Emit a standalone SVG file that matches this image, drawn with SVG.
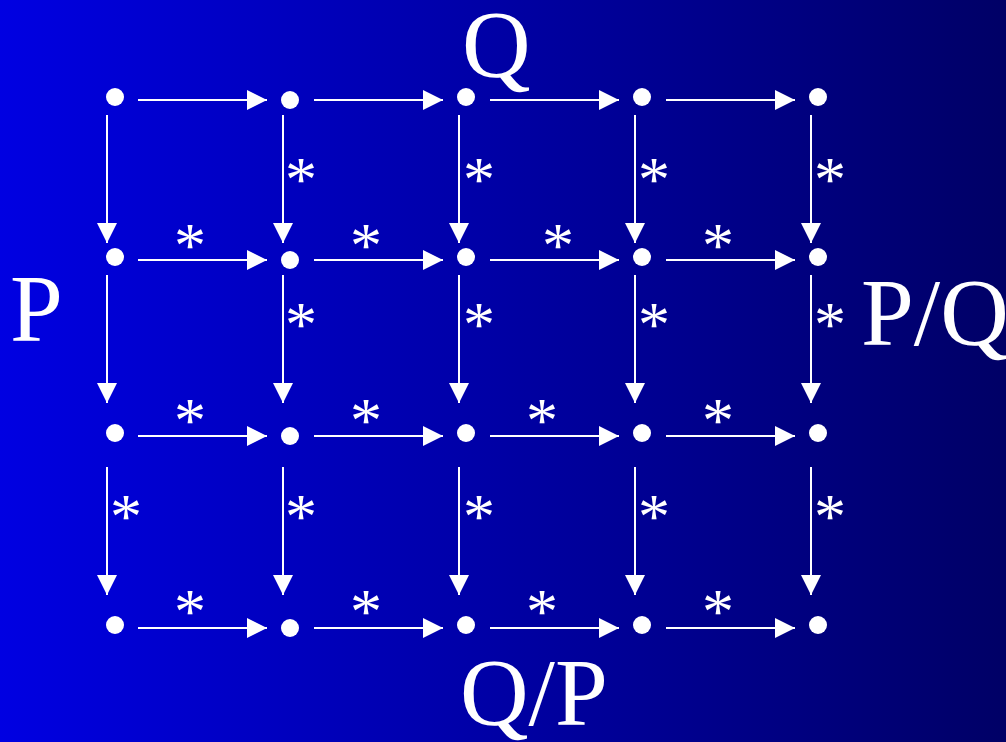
<svg xmlns="http://www.w3.org/2000/svg" width="1006" height="742" viewBox="0 0 1006 742">
<defs>
<linearGradient id="bg" x1="0" y1="0" x2="1" y2="0">
<stop offset="0" stop-color="#0000E2"/>
<stop offset="1" stop-color="#000066"/>
</linearGradient>
<marker id="ah" markerWidth="20" markerHeight="20" viewBox="0 0 20 20" refX="20" refY="10" orient="auto" markerUnits="userSpaceOnUse">
<path d="M0,0 L20,10 L0,20 Z" fill="#fff"/>
</marker>
<style>
.e{stroke:#fff;stroke-width:2;fill:none;marker-end:url(#ah)}
.d{fill:#fff}
.s{fill:#fff;font-family:"Liberation Serif","Times New Roman",serif;font-size:64px;text-anchor:middle}
.l{fill:#fff;font-family:"Liberation Serif","Times New Roman",serif;font-size:95px}
</style>
</defs>
<rect width="1006" height="742" fill="url(#bg)"/>
<g id="connectors">
<path class="e" d="M138,100 H267"/><path class="e" d="M314,100 H443"/><path class="e" d="M490,100 H619"/><path class="e" d="M666,100 H795"/>
<path class="e" d="M138,260 H267"/><path class="e" d="M314,260 H443"/><path class="e" d="M490,260 H619"/><path class="e" d="M666,260 H795"/>
<path class="e" d="M138,436 H267"/><path class="e" d="M314,436 H443"/><path class="e" d="M490,436 H619"/><path class="e" d="M666,436 H795"/>
<path class="e" d="M138,628 H267"/><path class="e" d="M314,628 H443"/><path class="e" d="M490,628 H619"/><path class="e" d="M666,628 H795"/>
<path class="e" d="M107,115 V243"/><path class="e" d="M283,115 V243"/><path class="e" d="M459,115 V243"/><path class="e" d="M635,115 V243"/><path class="e" d="M811,115 V243"/>
<path class="e" d="M107,275 V403"/><path class="e" d="M283,275 V403"/><path class="e" d="M459,275 V403"/><path class="e" d="M635,275 V403"/><path class="e" d="M811,275 V403"/>
<path class="e" d="M107,467 V595"/><path class="e" d="M283,467 V595"/><path class="e" d="M459,467 V595"/><path class="e" d="M635,467 V595"/><path class="e" d="M811,467 V595"/>
</g>
<g id="stars">
<text class="s" x="190" y="267">*</text><text class="s" x="366" y="267">*</text><text class="s" x="558" y="267">*</text><text class="s" x="718" y="267">*</text>
<text class="s" x="190" y="442">*</text><text class="s" x="366" y="442">*</text><text class="s" x="542" y="442">*</text><text class="s" x="718" y="442">*</text>
<text class="s" x="190" y="633">*</text><text class="s" x="366" y="633">*</text><text class="s" x="542" y="633">*</text><text class="s" x="718" y="633">*</text>
<text class="s" x="301" y="201">*</text><text class="s" x="479" y="201">*</text><text class="s" x="654" y="201">*</text><text class="s" x="830" y="201">*</text>
<text class="s" x="301" y="346">*</text><text class="s" x="479" y="346">*</text><text class="s" x="654" y="346">*</text><text class="s" x="830" y="346">*</text>
<text class="s" x="126" y="538">*</text><text class="s" x="301" y="538">*</text><text class="s" x="479" y="538">*</text><text class="s" x="654" y="538">*</text><text class="s" x="830" y="538">*</text>
</g>
<g id="n11"><circle class="d" cx="115" cy="97" r="9"/></g>
<g id="n12"><circle class="d" cx="290" cy="100" r="9"/></g>
<g id="n13"><circle class="d" cx="466" cy="97" r="9"/></g>
<g id="n14"><circle class="d" cx="642" cy="97" r="9"/></g>
<g id="n15"><circle class="d" cx="818" cy="97" r="9"/></g>
<g id="n21"><circle class="d" cx="115" cy="257" r="9"/></g>
<g id="n22"><circle class="d" cx="290" cy="260" r="9"/></g>
<g id="n23"><circle class="d" cx="466" cy="257" r="9"/></g>
<g id="n24"><circle class="d" cx="642" cy="257" r="9"/></g>
<g id="n25"><circle class="d" cx="818" cy="257" r="9"/></g>
<g id="n31"><circle class="d" cx="115" cy="433" r="9"/></g>
<g id="n32"><circle class="d" cx="290" cy="436" r="9"/></g>
<g id="n33"><circle class="d" cx="466" cy="433" r="9"/></g>
<g id="n34"><circle class="d" cx="642" cy="433" r="9"/></g>
<g id="n35"><circle class="d" cx="818" cy="433" r="9"/></g>
<g id="n41"><circle class="d" cx="115" cy="625" r="9"/></g>
<g id="n42"><circle class="d" cx="290" cy="628" r="9"/></g>
<g id="n43"><circle class="d" cx="466" cy="625" r="9"/></g>
<g id="n44"><circle class="d" cx="642" cy="625" r="9"/></g>
<g id="n45"><circle class="d" cx="818" cy="625" r="9"/></g>
<g id="labels">
<text class="l" x="462" y="77">Q</text>
<text class="l" x="10" y="341">P</text>
<text class="l" x="861" y="345">P/Q</text>
<text class="l" x="460" y="725">Q/P</text>
</g>
</svg>
